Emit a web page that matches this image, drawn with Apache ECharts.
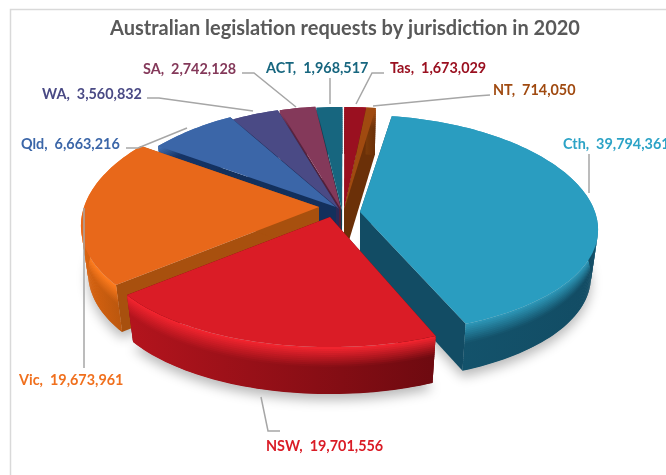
<!DOCTYPE html>
<html><head><meta charset="utf-8">
<style>html,body{margin:0;padding:0;background:#fff}#c{width:666px;height:475px}</style>
<script src="https://cdn.jsdelivr.net/npm/echarts@6/dist/echarts.min.js"></script>
</head><body><div id="c"></div>
<script>
const categories = ['Cth','NSW','Vic','Qld','WA','SA','ACT','Tas','NT'];
const requests = [39794361,19701556,19673961,6663216,3560832,2742128,1968517,1673029,714050];
const titleText = 'Australian legislation requests by jurisdiction in 2020';

// presentation only
const topColors  = ['#2A9DC0','#DA1C26','#E8681A','#3B66A8','#4A4A85','#84395A','#17667F','#9A1020','#A04A10'];
const rimColors  = ['#2C95B5','#F0242E','#FF7C1E','#4472B4','#50508E','#8C3E60','#1A6E88','#A81424','#A84E12'];
const wallLeft   = ['#14566F','#B3141D','#D8620F','#16356A','#2E2E60','#5C2642','#0E4458','#650A14','#7A3A0A'];
const wallRight  = ['#124C64','#6E0A10','#A8500E','#13305C','#2A2A58','#52203A','#0C3C50','#5A0810','#6B3008'];
const explode    = [[22,-8],[-8,-3],[-19,-13],[-2,-13],[1,-11],[3,-11],[4,-10],[6,-10],[6,-10]];
const flatten    = [0.94,1,1,1,1,1,1,1,1];
const paintOrder = [6,7,8,5,4,3,2,0,1];
const labelSpots = [[563,144],[266,446],[19,380],[21,144],[42,94],[143,69],[266,68],[390,68],[493,90]];
const leaders = [
  [[589,154],[589,193]],
  [[261,397],[268,431],[280,431]],
  [[84,208],[84,368]],
  [[187,128],[138,148],[126,148]],
  [[147,98],[159,98],[253,111]],
  [[242,73],[254,73],[296,107]],
  [[330,78],[330,104]],
  [[384,73],[372,73],[356,104]],
  [[490,95],[476,96],[373,106]]
];
const labelColors = ['#2CA3C6','#DA1C26','#F0701E','#3B66A8','#4A4A85','#84395A','#17667F','#9A1020','#A04A10'];

const CX=338, CY=220, RX=235, RY=115, KY=0.116, KX=0.16, DEPTH=47, START=9;
const total = requests.reduce((a,b)=>a+b,0);
const rad = d => d*Math.PI/180;
function P(cx,cy,deg,fl,d){
  const X=Math.sin(rad(deg)), Y=-Math.cos(rad(deg));
  return [cx+RX*X/(1-KX*Y)*(1-0.03*d/DEPTH), cy+RY*fl*Y/(1-KY*Y)+d];
}
function arc(cx,cy,a,b,fl,d){
  const pts=[], n=Math.max(2,Math.ceil((b-a)/1.5));
  for(let i=0;i<=n;i++) pts.push(P(cx,cy,a+(b-a)*i/n,fl,d));
  return pts;
}
function hex(c){return [1,3,5].map(i=>parseInt(c.substr(i,2),16));}
function mix(a,b,t){const A=hex(a),B=hex(b);return 'rgb('+A.map((v,i)=>Math.round(v+(B[i]-v)*t)).join(',')+')';}

function renderItem(params, api){
  const i=params.dataIndex;
  let before=0; for(let j=0;j<i;j++) before+=requests[j];
  const a=START+before/total*360, b=a+api.value(0)/total*360;
  const cx=CX+explode[i][0], cy=CY+explode[i][1], fl=flatten[i];
  const z=10+paintOrder.indexOf(i)*10;
  const kids=[];
  const poly=(points,style,z2)=>kids.push({type:'polygon',z2:z2,shape:{points:points},style:style,silent:true});
  const apex=[cx,cy], apexD=[cx,cy+DEPTH];
  // soft ground shadow for the front slices
  if(i<3){
    poly([apexD].concat(arc(cx,cy,a,b,fl,DEPTH)),{fill:'#cfcfcf',shadowBlur:12,shadowColor:'rgba(0,0,0,0.28)',shadowOffsetY:6},1);
  }
  // radial walls
  const pa=P(cx,cy,a,fl,0), paD=P(cx,cy,a,fl,DEPTH), pb=P(cx,cy,b,fl,0), pbD=P(cx,cy,b,fl,DEPTH);
  poly([apex,pa,paD,apexD],{fill:wallRight[i]},z);
  poly([apex,pb,pbD,apexD],{fill:wallRight[i]},z);
  // outer wall, layered so that it reads as a bevel at the top
  const N=24;
  for(let k=0;k<N;k++){
    const t=k/N, d1=DEPTH*t, d2=Math.min(DEPTH,DEPTH*(t+1/N)+1.5);
    const f=Math.min(1,t/0.4);
    const up=arc(cx,cy,a,b,fl,d1), lo=arc(cx,cy,a,b,fl,d2).reverse();
    poly(up.concat(lo),{fill:{type:'linear',x:0,y:0,x2:1,y2:0,colorStops:[
      {offset:0,color:mix(rimColors[i],wallLeft[i],f)},
      {offset:1,color:mix(rimColors[i],wallRight[i],f)}]}},z+1);
  }
  // top face
  poly([apex].concat(arc(cx,cy,a,b,fl,0)),{fill:topColors[i]},z+3);
  // leader and label
  kids.push({type:'polyline',z2:200,silent:true,shape:{points:leaders[i]},style:{fill:null,stroke:'#A6A6A6',lineWidth:1.5}});
  kids.push({type:'text',z2:201,silent:true,x:labelSpots[i][0],y:labelSpots[i][1],
    style:{text:categories[i]+',  '+requests[i].toLocaleString('en-US'),
      font:'bold 14.4px Lato',fill:labelColors[i],textVerticalAlign:'middle',textAlign:'left'}});
  return {type:'group',children:kids};
}

const chart=echarts.init(document.getElementById('c'),null,{renderer:'canvas'});
chart.setOption({
  animation:false,
  backgroundColor:'#fff',
  title:{text:titleText,left:340,top:14,textAlign:'center',
    textStyle:{fontFamily:'Lato',fontWeight:'bold',fontSize:20,color:'#595959'}},
  graphic:[{type:'polyline',z:-1,silent:true,shape:{points:[[10.5,480],[10.5,9.5],[670,9.5]]},
    style:{fill:null,stroke:'#D9D9D9',lineWidth:1.5}}],
  series:[{type:'custom',coordinateSystem:'none',renderItem:renderItem,clip:false,
    data:requests.map((v,i)=>({name:categories[i],value:[v]}))}]
});
</script></body></html>
